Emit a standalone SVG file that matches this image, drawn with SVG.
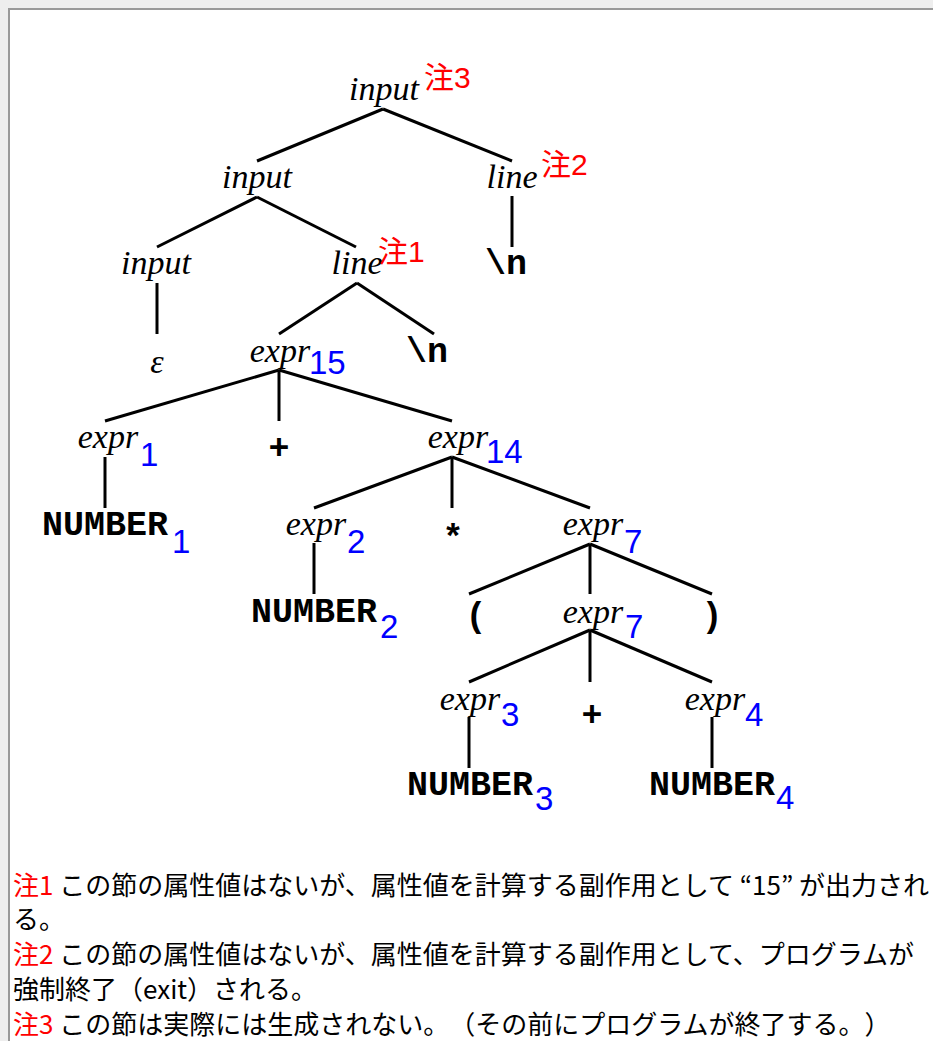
<svg xmlns="http://www.w3.org/2000/svg" width="933" height="1041" viewBox="0 0 933 1041">
<style>
.nt{font-family:"Liberation Serif",serif;font-style:italic;font-size:34px;text-anchor:middle;fill:#000}
.tk{font-family:"Liberation Mono",monospace;font-weight:bold;font-size:35px;text-anchor:middle;fill:#000}
.num{font-family:"Liberation Sans",sans-serif;font-size:33px;fill:#0000ff}
.note{font-family:"Liberation Sans","Noto Sans CJK JP",sans-serif;font-size:30px;fill:#ff0000}
.body{font-family:"Noto Sans CJK JP",sans-serif;font-size:26px;fill:#000;text-spacing-trim:space-all}
.red{fill:#ff0000}
.edge{stroke:#000;stroke-width:3;fill:none}
</style>
<rect x="0" y="0" width="933" height="1041" fill="#eeeeee"/>
<rect x="9" y="9" width="1000" height="1100" fill="#ffffff" stroke="#999999" stroke-width="2"/>
<g id="connectors">
<line class="edge" x1="383" y1="109" x2="257" y2="161"/>
<line class="edge" x1="383" y1="109" x2="512" y2="161"/>
<line class="edge" x1="257" y1="197" x2="157" y2="247"/>
<line class="edge" x1="257" y1="197" x2="356" y2="247"/>
<line class="edge" x1="512" y1="196" x2="512" y2="247"/>
<line class="edge" x1="157" y1="283" x2="157" y2="334"/>
<line class="edge" x1="357" y1="283" x2="279" y2="334"/>
<line class="edge" x1="357" y1="283" x2="434" y2="334"/>
<line class="edge" x1="279" y1="370" x2="105" y2="421"/>
<line class="edge" x1="279" y1="370" x2="279" y2="421"/>
<line class="edge" x1="279" y1="370" x2="452" y2="421"/>
<line class="edge" x1="105" y1="457" x2="105" y2="508"/>
<line class="edge" x1="452" y1="457" x2="314" y2="508"/>
<line class="edge" x1="452" y1="457" x2="452" y2="508"/>
<line class="edge" x1="452" y1="457" x2="590" y2="508"/>
<line class="edge" x1="314" y1="543" x2="314" y2="594"/>
<line class="edge" x1="590" y1="544" x2="469" y2="594"/>
<line class="edge" x1="590" y1="544" x2="590" y2="594"/>
<line class="edge" x1="590" y1="544" x2="712" y2="594"/>
<line class="edge" x1="590" y1="630" x2="469" y2="682"/>
<line class="edge" x1="590" y1="630" x2="590" y2="682"/>
<line class="edge" x1="590" y1="630" x2="712" y2="682"/>
<line class="edge" x1="469" y1="717" x2="469" y2="768"/>
<line class="edge" x1="712" y1="717" x2="712" y2="768"/>
</g>
<g id="n-input-root"><text class="nt" x="384" y="100">input</text><text class="note" x="424" y="88">注3</text></g>
<g id="n-input-2"><text class="nt" x="257" y="188">input</text></g>
<g id="n-line-2"><text class="nt" x="512" y="188">line</text><text class="note" x="541" y="175">注2</text></g>
<g id="n-input-3"><text class="nt" x="156" y="274">input</text></g>
<g id="n-line-3"><text class="nt" x="357" y="274">line</text><text class="note" x="378" y="262">注1</text></g>
<g id="n-nl-1"><text class="tk" x="506" y="274">\n</text></g>
<g id="n-eps"><text class="nt" x="157" y="373">ε</text></g>
<g id="n-expr15"><text class="nt" x="280" y="362">expr</text><text class="num" x="309" y="374">15</text></g>
<g id="n-nl-2"><text class="tk" x="427" y="362">\n</text></g>
<g id="n-expr1"><text class="nt" x="108" y="448">expr</text><text class="num" x="140" y="466">1</text></g>
<g id="n-plus-1"><text class="tk" x="279" y="459">+</text></g>
<g id="n-expr14"><text class="nt" x="458" y="448">expr</text><text class="num" x="486" y="463">14</text></g>
<g id="n-number1"><text class="tk" x="105" y="535">NUMBER</text><text class="num" x="172" y="553">1</text></g>
<g id="n-expr2"><text class="nt" x="316" y="535">expr</text><text class="num" x="347" y="553">2</text></g>
<g id="n-star"><text class="tk" x="453" y="549">*</text></g>
<g id="n-expr7a"><text class="nt" x="593" y="535">expr</text><text class="num" x="624" y="553">7</text></g>
<g id="n-number2"><text class="tk" x="314" y="622">NUMBER</text><text class="num" x="380" y="638">2</text></g>
<g id="n-lparen"><text class="tk" x="476" y="627">(</text></g>
<g id="n-expr7b"><text class="nt" x="593" y="623">expr</text><text class="num" x="625" y="638">7</text></g>
<g id="n-rparen"><text class="tk" x="712" y="627">)</text></g>
<g id="n-expr3"><text class="nt" x="470" y="710">expr</text><text class="num" x="501" y="726">3</text></g>
<g id="n-plus-2"><text class="tk" x="592" y="726">+</text></g>
<g id="n-expr4"><text class="nt" x="715" y="710">expr</text><text class="num" x="745" y="726">4</text></g>
<g id="n-number3"><text class="tk" x="470" y="795">NUMBER</text><text class="num" x="535" y="810">3</text></g>
<g id="n-number4"><text class="tk" x="712" y="795">NUMBER</text><text class="num" x="776" y="809">4</text></g>
<g id="notes">
<text class="body" x="13" y="895"><tspan class="red">注1</tspan> この節の属性値はないが、属性値を計算する副作用として “15” が出力され</text>
<text class="body" x="13" y="929">る。</text>
<text class="body" x="13" y="964"><tspan class="red">注2</tspan> この節の属性値はないが、属性値を計算する副作用として、プログラムが</text>
<text class="body" x="13" y="999">強制終了（exit）される。</text>
<text class="body" x="13" y="1034"><tspan class="red">注3</tspan> この節は実際には生成されない。（その前にプログラムが終了する。）</text>
</g>
</svg>
